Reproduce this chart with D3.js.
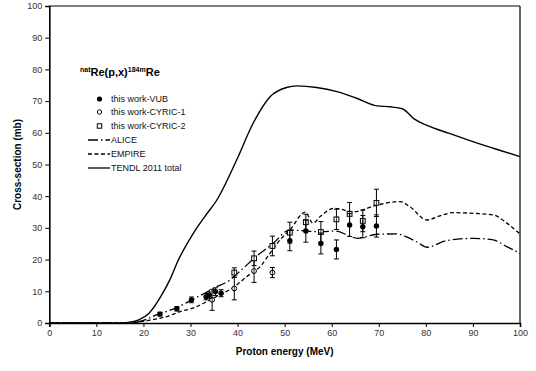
<!DOCTYPE html>
<html><head><meta charset="utf-8">
<script src="https://cdn.jsdelivr.net/npm/d3@7"></script>
<style>body{margin:0;background:#fff;} svg{display:block;font-family:"Liberation Sans",Arial,sans-serif;}</style>
</head><body><svg id="c" width="536" height="371"></svg>
<script>
const xTicks = [0,10,20,30,40,50,60,70,80,90,100];
const yTicks = [0,10,20,30,40,50,60,70,80,90,100];

const vubE  = [23.5, 27.1, 30.2, 33.3, 34.0, 35.3, 36.5, 51.1, 54.5, 57.7, 61.0, 63.8, 66.6, 69.5];
const vubCS = [2.8, 4.5, 7.3, 8.3, 8.8, 9.9, 9.4, 26.0, 29.0, 25.1, 23.2, 30.9, 30.4, 30.6];
const vubErr= [0.6, 0.7, 0.9, 1.0, 1.0, 1.2, 1.1, 3.2, 3.5, 3.3, 3.0, 3.6, 3.5, 3.5];

const c1E  = [34.6, 39.3, 43.5, 47.4];
const c1CS = [7.3, 10.9, 16.4, 15.9];
const c1Err= [3.3, 3.6, 3.6, 1.6];

const c2E  = [39.3, 43.5, 47.4, 51.1, 54.5, 57.7, 61.0, 63.8, 66.6, 69.5];
const c2CS = [15.9, 20.4, 24.3, 28.5, 31.8, 28.7, 32.7, 34.4, 32.2, 37.9];
const c2Err= [1.5, 2.3, 3.1, 3.3, 2.5, 3.3, 3.2, 3.6, 3.4, 4.3];

const aliceE  = [0, 17, 18.5, 20, 23, 26.7, 30.3, 33, 35, 38.4, 41, 43.5, 47.4, 51.1, 53, 57.7, 61, 63.2, 65.5, 69.6, 73.8, 76.6, 78.4, 80.2, 84.4, 90.1, 94.3, 97.2, 100];
const aliceCS = [0, 0, 0.2, 0.8, 2.7, 4.6, 7.3, 9.4, 11, 13.6, 17, 20.4, 24.9, 29.3, 29.2, 28.8, 29, 27.8, 26.7, 28, 28.1, 26.7, 25.3, 23.9, 26, 26.7, 26.2, 24.1, 22];

const empireE  = [0, 17, 18.5, 21, 25.3, 27.8, 30.3, 34.8, 39.8, 41.9, 44.8, 46.9, 49, 51.1, 54.4, 56, 57.5, 60.5, 64.6, 69.6, 74.5, 76.6, 80.2, 83, 85.8, 90.1, 94.3, 97.2, 100];
const empireCS = [0, 0, 0.2, 0.8, 2.2, 3.6, 4.6, 7.8, 12, 14.6, 17.8, 22, 26.2, 29.3, 35, 31.5, 33.5, 36.2, 35.1, 37.2, 38.3, 36.7, 32.5, 33.8, 34.8, 34.6, 34.1, 31.5, 28.1];

const tendlE  = [0, 15, 17.7, 19, 21.2, 24.1, 25.6, 27.3, 30.6, 33, 35.6, 39.8, 43.3, 46.9, 50.4, 52.6, 56.8, 61.1, 65.3, 69.6, 72.4, 75, 77.5, 80, 85, 90, 95, 100];
const tendlCS = [0, 0, 0.4, 1, 3.1, 9.4, 13.6, 19.5, 28.3, 33.5, 38.8, 51.4, 63, 71.4, 74.3, 74.8, 74.3, 73, 70.9, 68.5, 68.2, 67.6, 64.4, 62.5, 59.8, 57.2, 54.8, 52.5];

const legendLabels = ["this work-VUB","this work-CYRIC-1","this work-CYRIC-2","ALICE","EMPIRE","TENDL 2011 total"];

const svg = d3.select("#c");
const x = d3.scaleLinear().domain([0,100]).range([49.3,520]);
const y = d3.scaleLinear().domain([0,100]).range([323,6]);

svg.append("line").attr("x1",x(0)).attr("x2",x(100)).attr("y1",y(100)).attr("y2",y(100)).attr("stroke","#000").attr("stroke-width",1);
svg.append("line").attr("x1",x(100)).attr("x2",x(100)).attr("y1",y(100)).attr("y2",y(0)).attr("stroke","#000").attr("stroke-width",1.2);

const xa = svg.append("g").attr("transform",`translate(0,${y(0)})`)
  .call(d3.axisBottom(x).tickValues(xTicks).tickSize(4).tickPadding(3));
const ya = svg.append("g").attr("transform",`translate(${x(0)},0)`)
  .call(d3.axisLeft(y).tickValues(yTicks).tickSize(4).tickPadding(3));
[xa,ya].forEach(a=>{
  a.select(".domain").attr("stroke","#000").attr("stroke-width",1.6);
  a.selectAll(".tick line").attr("stroke","#000");
  a.selectAll(".tick text").attr("fill","#333").style("font-size","9px").style("font-family","Liberation Sans, Arial, sans-serif");
});

svg.append("text").attr("x",(x(0)+x(100))/2).attr("y",355).attr("text-anchor","middle")
  .style("font-size","10px").style("font-weight","bold").text("Proton energy (MeV)");
svg.append("text").attr("transform",`translate(21,${(y(0)+y(100))/2}) rotate(-90)`).attr("text-anchor","middle")
  .style("font-size","10px").style("font-weight","bold").text("Cross-section (mb)");

const t = svg.append("text").attr("x",80).attr("y",76).style("font-weight","bold").style("font-size","11px");
t.append("tspan").text("nat").style("font-size","7px").attr("dy",-4);
t.append("tspan").text("Re(p,x)").attr("dy",4);
t.append("tspan").text("184m").style("font-size","7px").attr("dy",-4);
t.append("tspan").text("Re").attr("dy",4);

function curve(E, CS, dash, w){
  const data = E.map((e,i)=>[e,CS[i]]);
  svg.append("path").datum(data)
    .attr("d", d3.line().x(d=>x(d[0])).y(d=>y(d[1])).curve(d3.curveMonotoneX))
    .attr("fill","none").attr("stroke","#000").attr("stroke-width",w)
    .attr("stroke-dasharray",dash);
}
curve(tendlE, tendlCS, null, 1.4);
curve(empireE, empireCS, "4,2.5", 1.3);
curve(aliceE, aliceCS, "10,3,1.5,3", 1.3);

function points(E, CS, Err, kind){
  const g = svg.append("g");
  E.forEach((e,i)=>{
    const px=x(e), y1=y(CS[i]+Err[i]), y2=y(CS[i]-Err[i]);
    g.append("line").attr("x1",px).attr("x2",px).attr("y1",y1).attr("y2",y2).attr("stroke","#000").attr("stroke-width",1);
    [y1,y2].forEach(yy=>g.append("line").attr("x1",px-2.5).attr("x2",px+2.5).attr("y1",yy).attr("y2",yy).attr("stroke","#000").attr("stroke-width",1));
  });
  E.forEach((e,i)=>{
    const px=x(e), py=y(CS[i]);
    if(kind==="filled") g.append("circle").attr("cx",px).attr("cy",py).attr("r",2.7).attr("fill","#000");
    else if(kind==="open") g.append("circle").attr("cx",px).attr("cy",py).attr("r",2.4).attr("fill","#fff").attr("stroke","#000").attr("stroke-width",1);
    else g.append("rect").attr("x",px-2.4).attr("y",py-2.4).attr("width",4.8).attr("height",4.8).attr("fill","#fff").attr("stroke","#000").attr("stroke-width",1);
    if(kind!=="filled") g.append("line").attr("x1",px).attr("x2",px).attr("y1",py-2.4).attr("y2",py+2.4).attr("stroke","#000").attr("stroke-width",0.8);
  });
}
points(c1E, c1CS, c1Err, "open");
points(c2E, c2CS, c2Err, "square");
points(vubE, vubCS, vubErr, "filled");

const lg = svg.append("g");
const rowY = [99,112,126,140,154,168];
legendLabels.forEach((lab,i)=>{
  lg.append("text").attr("x",111).attr("y",rowY[i]+3).style("font-size","9px").attr("fill","#111").text(lab);
});
lg.append("circle").attr("cx",99.5).attr("cy",rowY[0]).attr("r",2.6).attr("fill","#000");
lg.append("circle").attr("cx",99.5).attr("cy",rowY[1]).attr("r",2.2).attr("fill","#fff").attr("stroke","#000");
lg.append("rect").attr("x",97.3).attr("y",rowY[2]-2.2).attr("width",4.4).attr("height",4.4).attr("fill","#fff").attr("stroke","#000");
[["10,3,1.5,3",3],["4,2.5",4],[null,5]].forEach(([d,i])=>{
  lg.append("line").attr("x1",88).attr("x2",110).attr("y1",rowY[i]).attr("y2",rowY[i]).attr("stroke","#000").attr("stroke-width",1.3).attr("stroke-dasharray",d);
});
</script></body></html>
